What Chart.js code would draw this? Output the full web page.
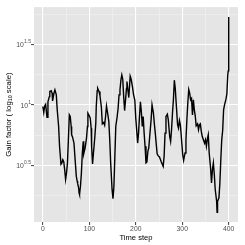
<!DOCTYPE html>
<html lang="en">
<head>
<meta charset="UTF-8">
<title>Gain factor over time</title>
<script src="https://cdn.jsdelivr.net/npm/chart.js@4"></script>
<style>
  html, body { margin: 0; padding: 0; background: #fff; }
</style>
</head>
<body>
<canvas id="chart" width="245" height="245"></canvas>
<script>
// values
const timeStep = [0, 2, 4, 6, 9, 11, 14, 15, 18, 20, 21, 24, 26, 29, 31, 34, 36, 39, 41, 43,
  45, 47, 49, 51, 53, 55, 57, 59, 61, 62, 64, 67, 69, 72, 74, 75, 77, 78, 79, 81,
  83, 85, 87, 88, 91, 94, 96, 97, 99, 102, 104, 105, 107, 109, 112, 114, 115, 117, 118, 121,
  123, 126, 128, 131, 133, 135, 137, 140, 142, 144, 146, 149, 151, 153, 155, 157, 160, 162, 164, 166,
  168, 170, 172, 174, 176, 178, 180, 181, 183, 185, 187, 188, 190, 193, 195, 198, 200, 203, 204, 206,
  208, 210, 212, 214, 216, 218, 220, 222, 224, 226, 228, 230, 233, 235, 238, 240, 242, 244, 246, 248,
  251, 255, 259, 261, 263, 265, 268, 270, 273, 275, 277, 279, 281, 283, 285, 287, 290, 292, 294, 296,
  298, 301, 303, 306, 308, 310, 312, 314, 316, 318, 320, 322, 324, 326, 328, 330, 333, 335, 337, 339,
  341, 343, 346, 348, 350, 352, 354, 356, 358, 361, 363, 365, 367, 369, 371, 374, 375, 376, 379, 381,
  383, 385, 387, 389, 391, 394, 396, 398, 399, 400];
const gain = [9.7, 8.65, 9.8, 10.1, 7.92, 10.6, 11.7, 12.9, 13.1, 12.5, 10.8, 12.5, 13.3, 12.1, 9.1, 6.64, 4.55, 3.24, 3.32, 3.53,
  3.40, 2.92, 2.42, 2.74, 3.32, 5.15, 8.28, 8.02, 6.64, 5.66, 5.42, 4.84, 3.76, 2.58, 2.34, 2.24, 2.07, 1.88, 1.82, 2.13,
  2.74, 4.01, 5.00, 3.95, 4.41, 5.32, 6.64, 8.55, 8.28, 7.77, 6.43, 4.55, 3.25, 4.01, 5.50, 7.07, 9.7, 13.1, 13.7, 12.9,
  11.9, 9.57, 6.98, 7.16, 6.81, 8.02, 9.8, 8.28, 7.30, 5.15, 3.32, 2.00, 1.68, 2.13, 3.76, 6.64, 8.02, 9.39, 12.1, 13.3,
  16.0, 17.7, 16.3, 11.7, 8.98, 11.0, 13.7, 15.6, 13.3, 11.5, 15.1, 17.3, 16.4, 14.0, 12.3, 10.9, 7.77, 5.50, 4.84, 5.85,
  8.02, 10.6, 8.81, 6.64, 8.02, 5.85, 4.55, 3.32, 3.38, 4.13, 4.41, 5.50, 7.53, 10.0, 8.55, 6.98, 5.85, 4.78, 3.95, 3.81,
  3.72, 3.38, 3.11, 3.76, 5.85, 8.02, 8.38, 7.53, 5.50, 5.00, 6.24, 8.55, 11.0, 16.0, 13.7, 10.3, 6.85, 6.43, 7.43, 6.85,
  5.50, 3.88, 3.48, 4.01, 5.15, 7.53, 10.4, 13.4, 12.5, 11.0, 11.3, 8.28, 11.0, 9.1, 8.13, 6.72, 6.98, 6.24, 6.85, 6.98,
  6.04, 5.50, 5.09, 4.84, 5.15, 4.55, 5.22, 5.66, 4.01, 3.01, 2.27, 2.92, 3.32, 2.66, 2.00, 1.60, 1.30, 1.60, 1.71, 2.27,
  3.53, 5.15, 6.15, 9.1, 10.0, 11.1, 12.3, 17.7, 19.1, 53.2];
const xTicks = [0, 100, 200, 300, 400];
const yTickPowers = [0.5, 1, 1.5];

const font = '"Liberation Sans", Arial, Helvetica, sans-serif';

const panelPlugin = {
  id: 'panel',
  beforeDraw(chart) {
    const { ctx, chartArea: a } = chart;
    ctx.save();
    ctx.fillStyle = '#fff';
    ctx.fillRect(0, 0, chart.width, chart.height);
    ctx.fillStyle = '#E5E5E5';
    ctx.fillRect(a.left, a.top, a.right - a.left, a.bottom - a.top);
    ctx.restore();
  },
  afterDraw(chart) {
    const { ctx, chartArea: a } = chart;
    const y = chart.scales.y;
    ctx.save();
    // y tick labels: 10 with a raised power
    ctx.fillStyle = '#4D4D4D';
    ctx.textBaseline = 'middle';
    ctx.textAlign = 'right';
    yTickPowers.forEach(p => {
      const py = y.getPixelForValue(Math.pow(10, p));
      ctx.font = '5px ' + font;
      const sup = String(p);
      const sw = ctx.measureText(sup).width;
      ctx.fillText(sup, 31, py - 2.5);
      ctx.font = '6.8px ' + font;
      ctx.fillText('10', 31 - sw - 0.2, py + 0.8);
    });
    // y title with subscript 10
    ctx.fillStyle = '#000';
    ctx.translate(8.5, (a.top + a.bottom) / 2);
    ctx.rotate(-Math.PI / 2);
    ctx.textAlign = 'left';
    const p1 = 'Gain factor ( log', p2 = '10', p3 = ' scale)';
    ctx.font = '7.8px ' + font;
    const w1 = ctx.measureText(p1).width, w3 = ctx.measureText(p3).width;
    ctx.font = '5.3px ' + font;
    const w2 = ctx.measureText(p2).width;
    let x = -(w1 + w2 + w3) / 2;
    ctx.font = '7.8px ' + font;
    ctx.fillText(p1, x, 0);
    x += w1;
    ctx.font = '5.3px ' + font;
    ctx.fillText(p2, x, 2);
    x += w2;
    ctx.font = '7.8px ' + font;
    ctx.fillText(p3, x, 0);
    ctx.restore();
  }
};

const isMajorX = v => v % 100 === 0;
const isMajorY = v => yTickPowers.some(p => Math.abs(Math.log10(v) - p) < 1e-6);

new Chart(document.getElementById('chart'), {
  type: 'line',
  data: {
    datasets: [{
      data: timeStep.map((t, i) => ({ x: t, y: gain[i] })),
      borderColor: '#000',
      borderWidth: 1.4,
      pointRadius: 0,
      tension: 0,
      fill: false
    }]
  },
  options: {
    responsive: false,
    animation: false,
    devicePixelRatio: 1,
    layout: { padding: { top: 7, right: 7, left: 0, bottom: 0 } },
    plugins: { legend: { display: false }, tooltip: { enabled: false } },
    scales: {
      x: {
        type: 'linear',
        min: -19,
        max: 420,
        afterBuildTicks: s => {
          const t = [];
          for (let v = 0; v <= 400; v += 50) t.push({ value: v });
          s.ticks = t;
        },
        afterFit: s => { s.height = 23; },
        border: { display: false },
        grid: {
          color: c => isMajorX(c.tick.value) ? '#FFFFFF' : '#F2F2F2',
          lineWidth: c => isMajorX(c.tick.value) ? 1.1 : 0.6,
          tickColor: c => isMajorX(c.tick.value) ? '#4D4D4D' : 'rgba(0,0,0,0)',
          tickLength: 3
        },
        ticks: {
          autoSkip: false,
          maxRotation: 0,
          padding: 0,
          color: '#4D4D4D',
          font: { family: font, size: 6.8 },
          callback: v => isMajorX(v) && xTicks.includes(v) ? String(v) : ''
        },
        title: {
          display: true,
          text: 'Time step',
          color: '#000',
          font: { family: font, size: 7.6 },
          padding: { top: 0, bottom: 2.7 }
        }
      },
      y: {
        type: 'logarithmic',
        min: Math.pow(10, 0.033),
        max: Math.pow(10, 1.808),
        afterBuildTicks: s => {
          s.ticks = [0.25, 0.5, 0.75, 1, 1.25, 1.5, 1.75].map(p => ({ value: Math.pow(10, p) }));
        },
        afterFit: s => { s.width = 34; },
        border: { display: false },
        grid: {
          color: c => isMajorY(c.tick.value) ? '#FFFFFF' : '#F2F2F2',
          lineWidth: c => isMajorY(c.tick.value) ? 1.1 : 0.6,
          tickColor: c => isMajorY(c.tick.value) ? '#4D4D4D' : 'rgba(0,0,0,0)',
          tickLength: 3
        },
        ticks: {
          autoSkip: false,
          color: '#4D4D4D',
          font: { family: font, size: 6.8 },
          callback: () => ''
        }
      }
    }
  },
  plugins: [panelPlugin]
});
</script>
</body>
</html>
